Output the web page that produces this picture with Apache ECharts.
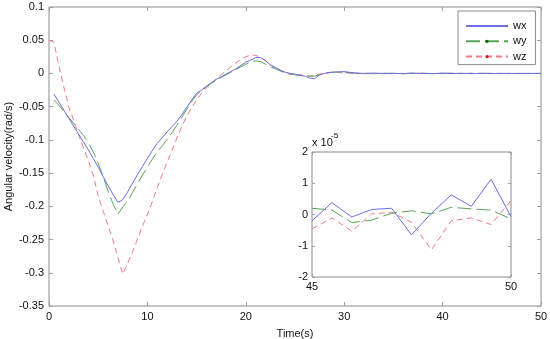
<!DOCTYPE html>
<html>
<head>
<meta charset="utf-8">
<script src="https://cdn.jsdelivr.net/npm/echarts@6/dist/echarts.min.js"></script>
<style>html,body{margin:0;padding:0;background:#fff}#c{width:550px;height:339px}</style>
</head>
<body>
<div id="c"></div>
<script>
// ---- main plot data (s, rad/s) ----
const tMain = [0,0.5,1,1.5,2,2.5,3,3.5,4,4.5,5,5.5,6,6.5,7,7.5,8,8.5,9,9.5,10,10.5,11,11.5,12,12.5,13,13.5,14,14.5,15,15.5,16,16.5,17,17.5,18,18.5,19,19.5,20,20.5,21,21.5,22,22.5,23,23.5,24,24.5,25,25.5,26,26.5,27,27.5,28,28.5,29,29.5,30,31,32,33,34,35,36,37,38,39,40,41,42,43,44];
const wxMain = [null,-0.031,-0.043,-0.055,-0.067,-0.079,-0.091,-0.103,-0.115,-0.128,-0.141,-0.155,-0.169,-0.182,-0.194,-0.190,-0.178,-0.165,-0.152,-0.140,-0.128,-0.116,-0.105,-0.097,-0.088,-0.080,-0.072,-0.062,-0.051,-0.040,-0.030,-0.025,-0.019,-0.014,-0.009,-0.005,-0.001,0.003,0.007,0.012,0.017,0.020,0.024,0.024,0.019,0.013,0.009,0.005,0.002,0.000,-0.001,-0.003,-0.004,-0.007,-0.008,-0.002,0.000,0.0015,0.002,0.0025,0.0028,0.0008,-0.0004,0.0006,-0.0003,0.0002,-0.0005,0.0004,0.0001,-0.0003,0.0005,-0.0002,0.0003,-0.0004,0.0002];
const wyMain = [null,-0.040,-0.048,-0.057,-0.066,-0.075,-0.084,-0.093,-0.104,-0.118,-0.135,-0.155,-0.177,-0.196,-0.212,-0.201,-0.192,-0.179,-0.166,-0.153,-0.141,-0.129,-0.118,-0.109,-0.099,-0.089,-0.078,-0.066,-0.054,-0.042,-0.032,-0.026,-0.020,-0.015,-0.010,-0.006,-0.002,0.002,0.006,0.010,0.014,0.017,0.019,0.018,0.014,0.010,0.007,0.004,0.001,-0.001,-0.002,-0.003,-0.003,-0.004,-0.004,-0.002,0.000,0.0015,0.002,0.002,0.002,0.0005,0.0003,-0.0004,0.0004,0.0001,-0.0003,0.0002,0.0004,-0.0002,0.0001,0.0003,-0.0003,0.0002,0.0001];
const wzMain = [0.050,0.047,0.012,-0.020,-0.050,-0.070,-0.092,-0.112,-0.131,-0.153,-0.184,-0.207,-0.229,-0.251,-0.277,-0.302,-0.285,-0.268,-0.249,-0.230,-0.212,-0.193,-0.172,-0.152,-0.134,-0.116,-0.097,-0.080,-0.064,-0.051,-0.040,-0.030,-0.022,-0.015,-0.008,-0.002,0.004,0.010,0.016,0.021,0.025,0.028,0.027,0.025,0.019,0.013,0.008,0.004,0.001,-0.001,-0.002,-0.002,-0.003,-0.004,-0.003,-0.001,0.000,0.001,0.002,0.0015,0.001,-0.0004,0.0006,-0.0002,0.0003,-0.0005,0.0002,0.0004,-0.0003,0.0001,-0.0004,0.0003,-0.0001,0.0002,-0.0003];

// ---- inset data 45..50 s (units of 1e-5 rad/s) ----
const tInset = [45,45.5,46,46.5,47,47.5,48,48.5,49,49.5,50];
const wxInset = [-0.20,0.38,-0.08,0.16,0.20,-0.65,0.04,0.63,0.26,1.13,-0.07];
const wyInset = [0.20,0.14,-0.26,-0.18,0.04,0.12,0.02,0.23,0.18,0.14,-0.14];
const wzInset = [-0.46,-0.11,-0.53,0.02,0.07,-0.25,-1.13,-0.20,-0.11,-0.32,0.44];
const insetScale = 1e-5;

// ---- axis ticks ----
const xTicksMain = [0,10,20,30,40,50];
const yTicksMain = [-0.35,-0.3,-0.25,-0.2,-0.15,-0.1,-0.05,0,0.05,0.1];
const xTicksInset = [45,50];
const yTicksInset = [-2,-1,0,1,2];

const seriesNames = ['wx','wy','wz'];
const lineColors = ['#6e6ee4','#5aa55a','#f07a88'];
const dotColors = ['#6e6ee4','#0a6a0a','#e01020'];
const dashes = ['solid',[14,5],[6,4]];

function pairs(t, v) { return t.map((x, i) => [x, v[i]]); }
const mainSets = [wxMain, wyMain, wzMain];
const insetSets = [wxInset, wyInset, wzInset];

const FONT = 'Liberation Sans, Arial, sans-serif';
const frame = '#8a8a8a';
const tickCol = '#a0a0a0';

function axisBase(min, max, interval, showLabel, position, gridIndex, tickLen) {
  return {
    type: 'value', min: min, max: max, interval: interval, position: position, gridIndex: gridIndex,
    axisLine: {show: false, onZero: false},
    axisTick: {show: true, inside: true, length: tickLen, lineStyle: {color: tickCol, width: 1}},
    splitLine: {show: false},
    axisLabel: {show: showLabel, color: '#111', fontFamily: FONT, fontSize: 11, margin: 5},
  };
}

const chart = echarts.init(document.getElementById('c'), null, {renderer: 'canvas'});

const xMain = axisBase(xTicksMain[0], xTicksMain[xTicksMain.length-1], 10, true, 'bottom', 0, 4);
xMain.name = 'Time(s)'; xMain.nameLocation = 'middle'; xMain.nameGap = 22; xMain.nameMoveOverlap = false;
xMain.nameTextStyle = {fontFamily: FONT, fontSize: 11, color: '#111'};
const xMainTop = axisBase(xTicksMain[0], xTicksMain[xTicksMain.length-1], 10, false, 'top', 0, 4);
const yMain = axisBase(yTicksMain[0], yTicksMain[yTicksMain.length-1], 0.05, true, 'left', 0, 4);
yMain.axisLabel.formatter = v => String(+v.toFixed(2));
yMain.name = 'Angular velocity(rad/s)'; yMain.nameLocation = 'middle'; yMain.nameGap = 35; yMain.nameMoveOverlap = false;
yMain.nameTextStyle = {fontFamily: FONT, fontSize: 11, color: '#111'};
const yMainRight = axisBase(yTicksMain[0], yTicksMain[yTicksMain.length-1], 0.05, false, 'right', 0, 4);

const xIn = axisBase(xTicksInset[0], xTicksInset[1], 5, true, 'bottom', 1, 3);
xIn.axisLabel.margin = 4;
const yIn = axisBase(yTicksInset[0], yTicksInset[yTicksInset.length-1], 1, true, 'left', 1, 3);
yIn.axisLabel.margin = 4;
const yInRight = axisBase(yTicksInset[0], yTicksInset[yTicksInset.length-1], 1, false, 'right', 1, 3);

const series = [];
seriesNames.forEach((n, i) => {
  series.push({
    name: n, type: 'line', xAxisIndex: 0, yAxisIndex: 0,
    data: pairs(tMain.concat(tInset), mainSets[i].concat(insetSets[i].map(v => v * insetScale))),
    symbol: i === 0 ? 'none' : 'circle', showSymbol: false, silent: true, animation: false,
    lineStyle: {color: lineColors[i], width: 1, type: dashes[i]},
    itemStyle: {color: dotColors[i]},
    z: 3 - i
  });
});
seriesNames.forEach((n, i) => {
  series.push({
    name: n, type: 'line', xAxisIndex: 2, yAxisIndex: 2,
    data: pairs(tInset, insetSets[i]),
    symbol: 'none', silent: true, animation: false,
    lineStyle: {color: lineColors[i], width: 1, type: dashes[i]},
    z: 13 - i
  });
});

chart.setOption({
  animation: false,
  backgroundColor: '#fff',
  textStyle: {fontFamily: FONT},
  grid: [
    {left: 49, right: 9, top: 7, bottom: 33, show: true, borderColor: frame, borderWidth: 1, backgroundColor: '#fff', containLabel: false, outerBoundsMode: 'none'},
    {left: 312, right: 39, top: 152, bottom: 62, show: true, borderColor: frame, borderWidth: 1, backgroundColor: '#fff', z: 5, containLabel: false, outerBoundsMode: 'none'}
  ],
  xAxis: [xMain, xMainTop, Object.assign(xIn, {z: 6}), Object.assign(axisBase(45, 50, 5, false, 'top', 1, 3), {z: 6})],
  yAxis: [yMain, yMainRight, Object.assign(yIn, {z: 6}), Object.assign(yInRight, {z: 6})],
  legend: {
    orient: 'vertical', left: 458, top: 11,
    padding: [9.5, 9, 2.5, 7],
    itemWidth: 42, itemHeight: 4, itemGap: 4.3,
    backgroundColor: '#fff', borderColor: frame, borderWidth: 1,
    textStyle: {fontFamily: FONT, fontSize: 11, color: '#111'},
    data: [
      {name: 'wx', itemStyle: {opacity: 0}},
      {name: 'wy'},
      {name: 'wz'}
    ],
    selectedMode: false
  },
  graphic: [
    {type: 'text', left: 312, top: 137, z: 10, style: {text: 'x 10', fontFamily: FONT, fontSize: 11, fill: '#111'}},
    {type: 'text', left: 331, top: 132, z: 10, style: {text: '-5', fontFamily: FONT, fontSize: 8, fill: '#111'}}
  ],
  series: series
});
</script>
</body>
</html>
